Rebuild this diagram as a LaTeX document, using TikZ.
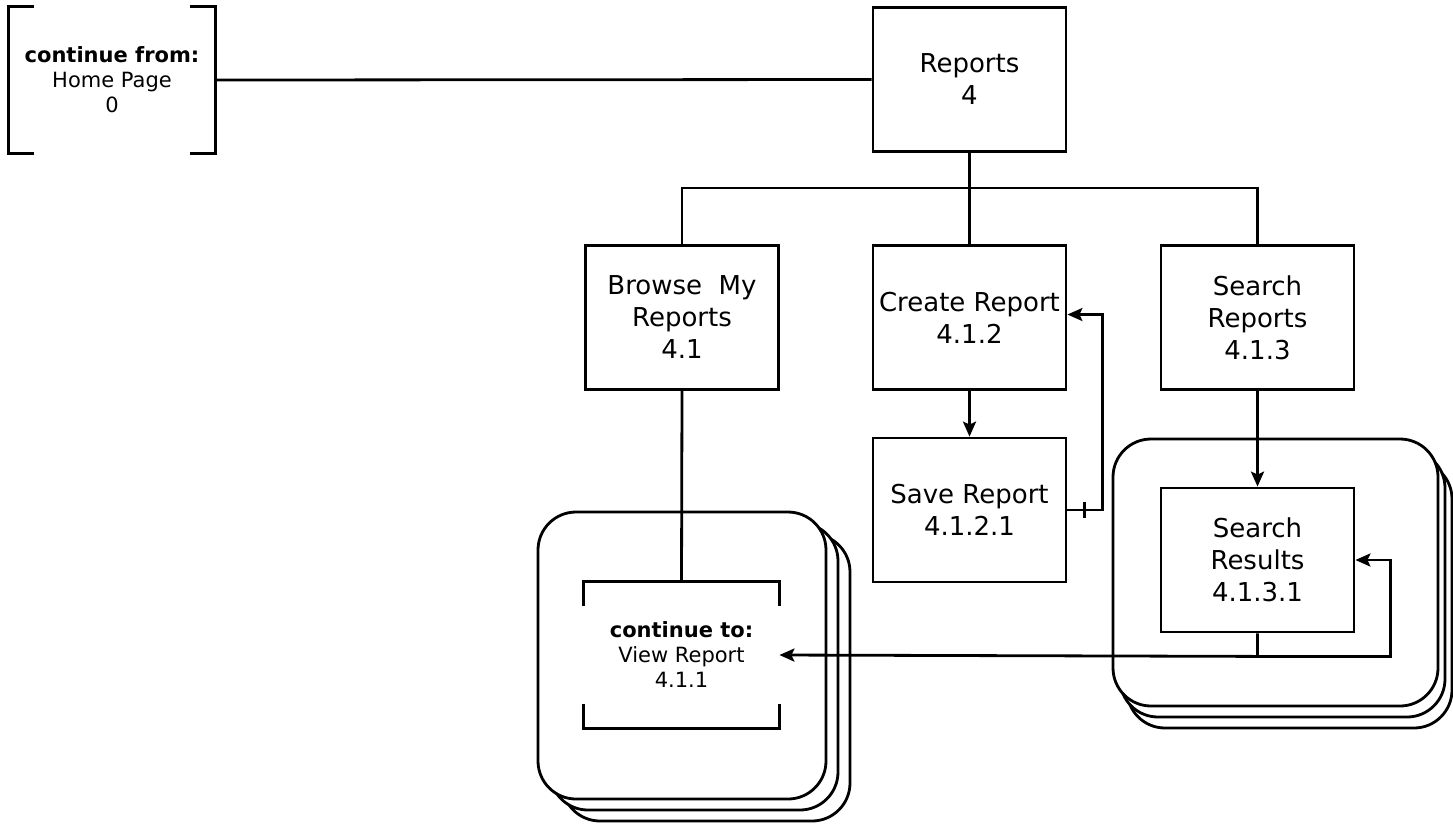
\documentclass[tikz,border=0pt]{standalone}
\usepackage{fontspec}
\setmainfont{DejaVu Sans}
\usetikzlibrary{arrows.meta}

\begin{document}
\begin{tikzpicture}[x=1pt, y=-1pt,
                    line width=2.8pt,
                    box/.style={draw, minimum width=193pt, minimum height=144pt, inner sep=2pt,
                                align=center, font=\fontsize{26}{32}\selectfont},
                    link/.style={minimum width=204pt, minimum height=144pt, inner sep=2pt,
                                 align=center, font=\fontsize{21}{25}\selectfont},
                    stack/.style={draw, fill=white, rounded corners=38pt},
                    arr/.style={-{Stealth[length=15pt, width=13pt, inset=3pt]}}
                    ]
    \useasboundingbox (0,0) rectangle (1453,823);

    \coordinate (H) at (112,80);
    \coordinate (R) at (969.5,79.5);
    \coordinate (B) at (682,317.5);
    \coordinate (C) at (969.5,317.5);
    \coordinate (S) at (1257.5,317.5);
    \coordinate (SV) at (969.5,510);
    \coordinate (SR) at (1257.5,560);
    \coordinate (V) at (681.5,655);

    % stacked pages
    \foreach \d in {2,1,0}
        \draw[stack] (538+12*\d,512+11*\d) rectangle ++(288,287);
    \foreach \d in {2,1,0}
        \draw[stack] (1113+7*\d,439+11*\d) rectangle ++(325,267);

    \node[link] (home) at (H) {\textbf{continue from:}\\Home Page\\0};
    \node[box] (reports) at (R) {Reports\\4};
    \node[box] (browse) at (B) {Browse~ My\\Reports\\4.1};
    \node[box] (create) at (C) {Create Report\\4.1.2};
    \node[box] (search) at (S) {Search\\Reports\\4.1.3};
    \node[box] (save) at (SV) {Save Report\\4.1.2.1};
    \node[box] (results) at (SR) {Search\\Results\\4.1.3.1};
    \node[link, minimum width=193pt] (view) at (V) {\textbf{continue to:}\\View Report\\4.1.1};

    % brackets
    \draw ([xshift=25pt]home.north west) -- (home.north west) -- (home.south west) -- ++(25,0);
    \draw ([xshift=-25pt]home.north east) -- (home.north east) -- (home.south east) -- ++(-25,0);
    \draw ([yshift=-24pt]view.north west) -- (view.north west) -- (view.north east) -- ++(0,24);
    \draw ([yshift=24pt]view.south west) -- (view.south west) -- (view.south east) -- ++(0,-24);

    % tree
    \draw (home.east) -- (reports.west);
    \draw (reports.south) -- ++(0,35) coordinate (bus);
    \draw (browse.north) |- (bus) -| (search.north);
    \draw (bus) -- (create.north);
    \draw (browse.south) -- (view.north);

    \draw[arr] (create.south) -- (save.north);
    \draw[arr] (save.east) -- ++(35,0) |- ([yshift=3pt]create.east);
    \draw ([shift={(17,-8)}]save.east) -- ++(0,16);

    \draw[arr] (search.south) -- (results.north);
    \draw[arr] (results.south) -- ++(0,23) coordinate (split) -- (view.east);
    \draw[arr] (split) -| ([xshift=35pt]results.east) -- (results.east);
\end{tikzpicture}
\end{document}
